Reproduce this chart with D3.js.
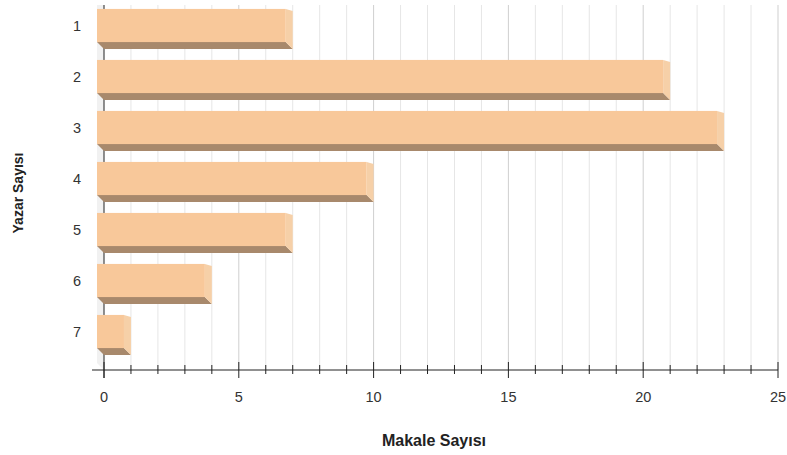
<!DOCTYPE html>
<html>
<head>
<meta charset="utf-8">
<script src="https://cdn.jsdelivr.net/npm/d3@7"></script>
<style>
  body { margin: 0; background: #fff; }
  text { font-family: "Liberation Sans", Arial, sans-serif; }
</style>
</head>
<body>
<svg id="chart" width="787" height="455"></svg>
<script>
// data
const categories = ['1', '2', '3', '4', '5', '6', '7'];
const values = [7, 21, 23, 10, 7, 4, 1];
const xTicks = [0, 5, 10, 15, 20, 25];
const xTitle = 'Makale Sayısı';
const yTitle = 'Yazar Sayısı';

const svg = d3.select('#chart');
const depth = 7;
const axisY = 370;

const x = d3.scaleLinear().domain([0, 25]).range([104, 778]);
const y = d3.scaleBand().domain(categories).range([-0.5, 356.5]).paddingInner(0.35).paddingOuter(0.175);

// left wall
svg.append('path')
  .attr('d', `M${x(0) - depth},${5}L${x(0)},${5}L${x(0)},${axisY}L${x(0) - depth},${axisY - depth}Z`)
  .attr('fill', '#f1f1f1');

// grid lines
const grid = svg.append('g');
grid.selectAll('line')
  .data(d3.range(1, 26))
  .join('line')
  .attr('x1', d => x(d)).attr('x2', d => x(d))
  .attr('y1', 5).attr('y2', axisY)
  .attr('stroke', d => d % 5 === 0 ? '#cfcfcf' : '#e6e6e6')
  .attr('stroke-width', 1);

// vertical axis line
svg.append('line')
  .attr('x1', x(0)).attr('x2', x(0))
  .attr('y1', 5).attr('y2', axisY + 8)
  .attr('stroke', '#222');

// bars (3d)
const bars = svg.append('g');
categories.forEach((c, i) => {
  const v = values[i];
  const x0 = x(0) - depth;
  const x1 = x(v) - depth;
  const y0 = y(c) + 0.5;
  const h = y.bandwidth();
  // bottom face
  bars.append('path')
    .attr('d', `M${x0},${y0 + h}L${x1},${y0 + h}L${x1 + depth},${y0 + h + depth}L${x0 + depth},${y0 + h + depth}Z`)
    .attr('fill', '#a8896c');
  // right face
  bars.append('path')
    .attr('d', `M${x1},${y0}L${x1 + depth},${y0 + depth * 0.3}L${x1 + depth},${y0 + h + depth}L${x1},${y0 + h}Z`)
    .attr('fill', '#f6d0a8');
  // front face
  bars.append('rect')
    .attr('x', x0).attr('y', y0)
    .attr('width', x1 - x0).attr('height', h)
    .attr('fill', '#f8c89a');
});

// x axis
const xAxis = svg.append('g').attr('transform', `translate(0,${axisY})`);
xAxis.append('line')
  .attr('x1', x(0) - 12).attr('x2', x(25))
  .attr('stroke', '#222');
xAxis.selectAll('line.tick')
  .data(d3.range(0, 26))
  .join('line')
  .attr('class', 'tick')
  .attr('x1', d => x(d)).attr('x2', d => x(d))
  .attr('y1', d => d % 5 === 0 ? -8 : -5)
  .attr('y2', d => d % 5 === 0 ? 8 : 4)
  .attr('stroke', '#222');
xAxis.selectAll('text')
  .data(xTicks)
  .join('text')
  .attr('x', d => x(d))
  .attr('y', 32)
  .attr('text-anchor', 'middle')
  .attr('font-size', 14.5)
  .attr('fill', '#333')
  .text(d => d);

// y labels
svg.append('g').selectAll('text')
  .data(categories)
  .join('text')
  .attr('x', 81)
  .attr('y', d => y(d) + y.bandwidth() / 2 + 5.5)
  .attr('text-anchor', 'end')
  .attr('font-size', 14.5)
  .attr('fill', '#333')
  .text(d => d);

// titles
svg.append('text')
  .attr('x', 434).attr('y', 446)
  .attr('text-anchor', 'middle')
  .attr('font-size', 16)
  .attr('font-weight', 'bold')
  .attr('fill', '#222')
  .text(xTitle);

svg.append('text')
  .attr('transform', 'translate(23,193) rotate(-90)')
  .attr('text-anchor', 'middle')
  .attr('font-size', 14)
  .attr('font-weight', 'bold')
  .attr('fill', '#222')
  .text(yTitle);
</script>
</body>
</html>
